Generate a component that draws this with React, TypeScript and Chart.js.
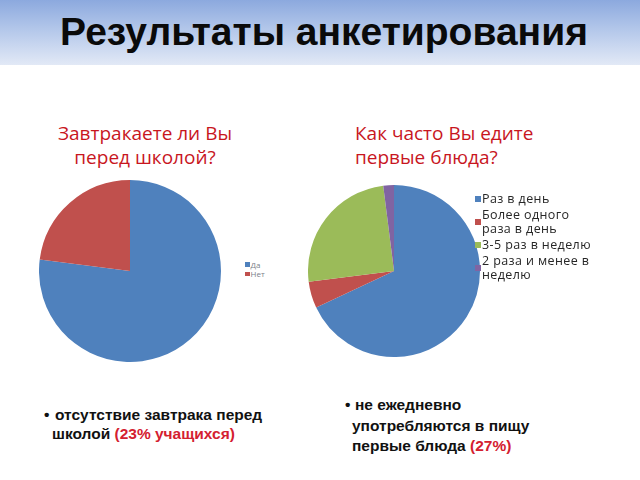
import React, { useEffect, useRef } from "react";
import { Chart, registerables } from "chart.js";

Chart.register(...registerables);

// ---- data ----
const slideTitle = "Результаты анкетирования";

const breakfastTitle = ["Завтракаете ли Вы", "перед школой?"];
const breakfastLabels = [["Да"], ["Нет"]];
const breakfastValues = [77, 23];
const breakfastColors = ["#4F81BD", "#C0504D"];

const soupTitle = ["Как часто Вы едите", "первые блюда?"];
const soupLabels = [
  ["Раз в день"],
  ["Более одного", "раза в день"],
  ["3-5 раз в неделю"],
  ["2 раза и менее в", "неделю"],
];
const soupValues = [68, 5, 25, 2];
const soupColors = ["#4F81BD", "#C0504D", "#9BBB59", "#8064A2"];

const note1Lines = ["отсутствие завтрака перед", "школой "];
const note1Highlight = "(23% учащихся)";
const note2Lines = ["не ежедневно", "употребляются в пищу", "первые блюда "];
const note2Highlight = "(27%)";

const TITLE_RED = "#C8161E";
const NOTE_RED = "#D42030";
const SANS = '"Liberation Sans", Arial, sans-serif';
const CAL = '"Open Sans", "Noto Sans", sans-serif';

type PieProps = { labels: string[][]; values: number[]; colors: string[]; size: number; left: number; top: number };

function PieChart({ labels, values, colors, size, left, top }: PieProps) {
  const ref = useRef<HTMLCanvasElement>(null);
  useEffect(() => {
    const chart = new Chart(ref.current as HTMLCanvasElement, {
      type: "pie",
      data: {
        labels: labels.map((l) => l.join(" ")),
        datasets: [
          {
            data: values,
            backgroundColor: colors,
            borderWidth: 0,
            hoverOffset: 0,
          },
        ],
      },
      options: {
        animation: false,
        responsive: false,
        maintainAspectRatio: false,
        layout: { padding: 0 },
        events: [],
        plugins: {
          legend: { display: false },
          tooltip: { enabled: false },
          title: { display: false },
        },
      },
    });
    return () => chart.destroy();
  }, []);
  return (
    <canvas
      ref={ref}
      width={size}
      height={size}
      style={{ position: "absolute", left, top, width: size, height: size }}
    />
  );
}

type LegendProps = {
  labels: string[][];
  colors: string[];
  left: number;
  top: number;
  fontSize: number;
  lineHeight: number;
  gap: number;
  box: number;
  color: string;
  width: number;
  spacing: number;
};

function Legend({ labels, colors, left, top, fontSize, lineHeight, gap, box, color, width, spacing }: LegendProps) {
  return (
    <div
      style={{
        position: "absolute",
        left,
        top,
        width,
        fontFamily: CAL,
        fontSize,
        lineHeight: lineHeight + "px",
        letterSpacing: spacing,
        color,
      }}
    >
      {labels.map((lines, i) => (
        <div key={i} style={{ display: "flex", alignItems: "center", marginBottom: gap }}>
          <div style={{ width: box, height: box, background: colors[i], marginRight: 1, flex: "none" }} />
          <div style={{ whiteSpace: "nowrap" }}>
            {lines.map((t, j) => (
              <div key={j}>{t}</div>
            ))}
          </div>
        </div>
      ))}
    </div>
  );
}

const noteStyle = {
  position: "absolute" as const,
  fontFamily: SANS,
  fontWeight: "bold" as const,
  fontSize: 15.5,
  color: "#111",
  whiteSpace: "nowrap" as const,
};

export default function App() {
  return (
    <div
      style={{
        position: "fixed",
        left: 0,
        top: 0,
        width: 640,
        height: 480,
        background: "#ffffff",
        overflow: "hidden",
      }}
    >
      <div
        style={{
          position: "absolute",
          left: 0,
          top: 0,
          width: 640,
          height: 65,
          background: "linear-gradient(to bottom, #8CA9DE 0%, #B3C7EA 45%, #E2E9F6 100%)",
        }}
      />
      <div
        style={{
          position: "absolute",
          left: 4,
          top: 10.2,
          width: 640,
          textAlign: "center",
          fontFamily: SANS,
          fontWeight: "bold",
          fontSize: 39,
          lineHeight: "44px",
          color: "#0a0a0a",
          whiteSpace: "nowrap",
        }}
      >
        {slideTitle}
      </div>

      {/* left chart */}
      <div
        style={{
          position: "absolute",
          left: 45,
          top: 121.3,
          width: 200,
          textAlign: "center",
          fontFamily: CAL,
          fontSize: 19,
          lineHeight: "24px",
          color: TITLE_RED,
          whiteSpace: "nowrap",
        }}
      >
        {breakfastTitle.map((t, i) => (
          <div key={i}>{t}</div>
        ))}
      </div>
      <PieChart labels={breakfastLabels} values={breakfastValues} colors={breakfastColors} size={182} left={39} top={180} />
      <Legend
        labels={breakfastLabels}
        colors={breakfastColors}
        left={245}
        top={259.5}
        fontSize={8}
        lineHeight={9.5}
        gap={0}
        box={4.5}
        color="#7a7f8a"
        width={40}
        spacing={0}
      />

      {/* right chart */}
      <div
        style={{
          position: "absolute",
          left: 355,
          top: 121.3,
          width: 240,
          textAlign: "left",
          fontFamily: CAL,
          fontSize: 19,
          lineHeight: "24px",
          color: TITLE_RED,
          whiteSpace: "nowrap",
        }}
      >
        {soupTitle.map((t, i) => (
          <div key={i}>{t}</div>
        ))}
      </div>
      <PieChart labels={soupLabels} values={soupValues} colors={soupColors} size={172} left={308} top={185} />
      <Legend
        labels={soupLabels}
        colors={soupColors}
        left={475}
        top={192}
        fontSize={12.5}
        lineHeight={14}
        gap={2}
        box={6}
        color="#262626"
        width={165}
        spacing={0.4}
      />

      {/* notes */}
      <div style={{ ...noteStyle, left: 44, top: 405, lineHeight: "19px" }}>•</div>
      <div style={{ ...noteStyle, left: 52, top: 405, lineHeight: "19px" }}>
        <div style={{ paddingLeft: 3 }}>{note1Lines[0]}</div>
        <div>
          {note1Lines[1]}
          <span style={{ color: NOTE_RED }}>{note1Highlight}</span>
        </div>
      </div>

      <div style={{ ...noteStyle, left: 345, top: 395, lineHeight: "20.5px" }}>•</div>
      <div style={{ ...noteStyle, left: 352, top: 395, lineHeight: "20.5px" }}>
        <div style={{ paddingLeft: 3 }}>{note2Lines[0]}</div>
        <div>{note2Lines[1]}</div>
        <div>
          {note2Lines[2]}
          <span style={{ color: NOTE_RED }}>{note2Highlight}</span>
        </div>
      </div>
    </div>
  );
}
